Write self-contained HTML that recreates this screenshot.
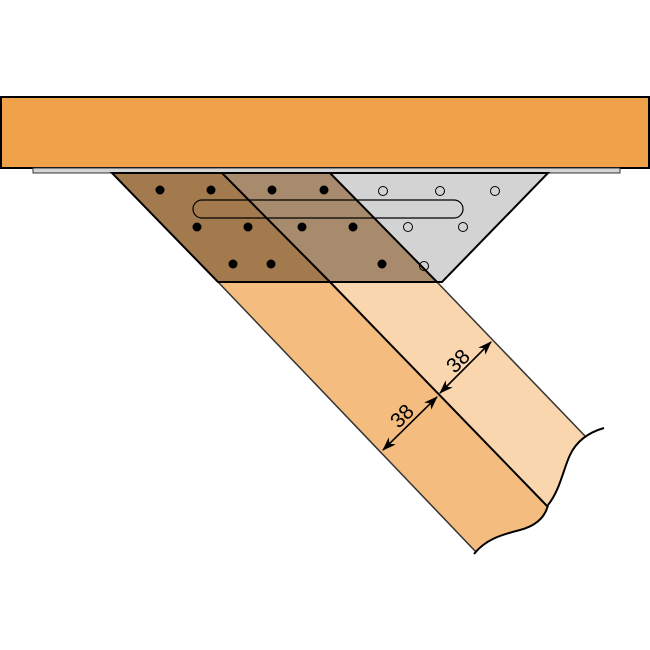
<!DOCTYPE html>
<html><head><style>body{margin:0;background:#fff}svg{display:block}</style></head><body>
<svg width="650" height="650" viewBox="0 0 650 650" xmlns="http://www.w3.org/2000/svg">
<rect x="0" y="0" width="650" height="650" fill="#fff"/>
<path d="M218,282 L330,282 L548,505 C545,518 535,526 520,530 C500,535 485,540 476,552 Z" fill="#f4bc7f"/>
<path d="M330,282 L437,282 L586,437 C577,445 573,448 570,455 C563,470 560,490 548,505 Z" fill="#f9d6ae"/>
<line x1="218" y1="282" x2="476" y2="552" stroke="#333" stroke-width="1.5"/>
<line x1="437" y1="282" x2="586" y2="437" stroke="#333" stroke-width="1.5"/>
<line x1="330" y1="282" x2="548" y2="507" stroke="#000" stroke-width="2"/>
<path d="M474,554 C485,540 500,535 520,530 C535,526 545,518 548,505" fill="none" stroke="#000" stroke-width="2"/>
<path d="M548,505 C560,490 563,470 570,455 C577,440 590,432 604,428" fill="none" stroke="#000" stroke-width="2"/>
<rect x="1" y="97" width="648" height="71" fill="#f0a24a" stroke="#000" stroke-width="2"/>
<rect x="33" y="168" width="587" height="5" fill="#d3d3d3" stroke="#333" stroke-width="1"/>
<polygon points="112,173 222,173 330,282 218,282" fill="#a37a4d"/>
<polygon points="222,173 330,173 437,282 330,282" fill="#a88a6d"/>
<polygon points="330,173 548,173 442,282 437,282" fill="#d3d3d3"/>
<polygon points="112,173 548,173 442,282 218,282" fill="none" stroke="#000" stroke-width="2"/>
<line x1="222" y1="173" x2="330" y2="282" stroke="#000" stroke-width="2"/>
<line x1="330" y1="173" x2="437" y2="282" stroke="#000" stroke-width="2"/>
<rect x="193" y="200" width="270" height="18" rx="9" fill="none" stroke="#000" stroke-width="1.2"/>
<g fill="#000">
<circle cx="160" cy="190" r="4.5"/><circle cx="211" cy="190" r="4.5"/><circle cx="272" cy="190" r="4.5"/><circle cx="324" cy="190" r="4.5"/>
<circle cx="197" cy="227" r="4.5"/><circle cx="248" cy="227" r="4.5"/><circle cx="302" cy="227" r="4.5"/><circle cx="353" cy="227" r="4.5"/>
<circle cx="233" cy="264" r="4.5"/><circle cx="271" cy="264" r="4.5"/><circle cx="382" cy="264" r="4.5"/>
</g>
<g fill="none" stroke="#000" stroke-width="1">
<circle cx="383" cy="191" r="4.5"/><circle cx="440" cy="191" r="4.5"/><circle cx="495" cy="191" r="4.5"/>
<circle cx="408" cy="227" r="4.5"/><circle cx="463" cy="227" r="4.5"/><circle cx="424" cy="266" r="4.5"/>
</g>
<defs><marker id="a" markerWidth="14" markerHeight="10" refX="13" refY="5" orient="auto" markerUnits="userSpaceOnUse"><path d="M0,0 L14,5 L0,10 L4,5 Z" fill="#000"/></marker></defs>
<line x1="437" y1="397" x2="383" y2="450" stroke="#000" stroke-width="1.5" marker-end="url(#a)"/>
<line x1="383" y1="450" x2="437" y2="397" stroke="#000" stroke-width="1.5" marker-end="url(#a)"/>
<line x1="491" y1="342" x2="440" y2="393" stroke="#000" stroke-width="1.5" marker-end="url(#a)"/>
<line x1="440" y1="393" x2="491" y2="342" stroke="#000" stroke-width="1.5" marker-end="url(#a)"/>
<text x="0" y="0" transform="translate(407,421) rotate(-45)" font-family="Liberation Sans, sans-serif" font-size="21" text-anchor="middle">38</text>
<text x="0" y="0" transform="translate(463,366) rotate(-45)" font-family="Liberation Sans, sans-serif" font-size="21" text-anchor="middle">38</text>
</svg>
</body></html>
